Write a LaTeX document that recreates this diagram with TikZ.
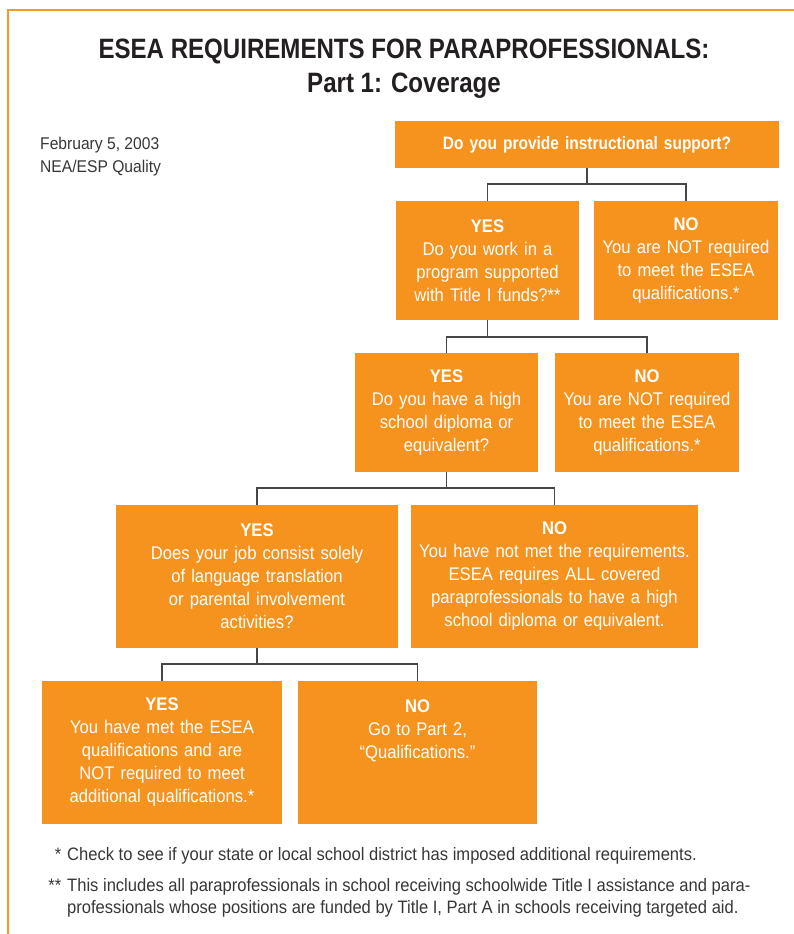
\documentclass[tikz,border=0pt]{standalone}
\usepackage{fontspec}
\setmainfont{Liberation Sans}[FakeStretch=0.86]
\newfontfamily\boxfont{Liberation Sans}[FakeStretch=0.91]
\newfontfamily\notefont{Liberation Sans}[FakeStretch=0.92]
\definecolor{BoxOrange}{RGB}{246,147,30}
\definecolor{FrameOrange}{RGB}{247,152,42}
\definecolor{LineGrey}{RGB}{70,70,70}
\definecolor{TitleInk}{RGB}{35,31,32}
\definecolor{NoteInk}{RGB}{55,55,55}

\begin{document}
\begin{tikzpicture}[x=1pt,y=-1pt,
  box/.style={fill=BoxOrange,text=white,inner sep=0pt,align=center,font=\boxfont\fontsize{18.3}{23}\selectfont},
  conn/.style={draw=LineGrey,line width=1.5pt},
  note/.style={text=NoteInk,inner sep=0pt,align=left,anchor=west}
]
\useasboundingbox (0,0) rectangle (794,934);
\draw[FrameOrange,line width=2pt] (8,934) -- (8,10) -- (794,10);

\node[text=TitleInk,align=center,font=\fontsize{28}{34}\selectfont\bfseries] (head) at (404,69) {ESEA REQUIREMENTS FOR PARAPROFESSIONALS:\\Part 1: Coverage};
\node[note,font=\notefont\fontsize{17}{23}\selectfont] (date) at (40,156.5) {February 5, 2003\\NEA/ESP Quality};

\node[box,text width=384pt,minimum height=47pt,font=\fontsize{18}{23}\selectfont] (q1) at (587,144.5) {\bfseries Do you provide instructional support?};
\node[box,text width=183pt,minimum height=119pt] (yes1) at (487.5,260.5) {{\bfseries YES}\\Do you work in a\\program supported\\with Title I funds?**};
\node[box,text width=184pt,minimum height=119pt] (no1) at (686,260.5) {{\bfseries NO}\\You are NOT required\\to meet the ESEA\\qualifications.*};
\node[box,text width=183pt,minimum height=119pt] (yes2) at (446.5,412.5) {{\bfseries YES}\\Do you have a high\\school diploma or\\equivalent?};
\node[box,text width=184pt,minimum height=119pt] (no2) at (647,412.5) {{\bfseries NO}\\You are NOT required\\to meet the ESEA\\qualifications.*};
\node[box,text width=282pt,minimum height=143pt] (yes3) at (257,576.5) {{\bfseries YES}\\Does your job consist solely\\of language translation\\or parental involvement\\activities?};
\node[box,text width=287pt,minimum height=143pt] (no3) at (554.5,576.5) {{\bfseries NO}\\You have not met the requirements.\\ESEA requires ALL covered\\paraprofessionals to have a high\\school diploma or equivalent.};
\node[box,text width=240pt,minimum height=143pt] (yes4) at (162,752.5) {{\bfseries YES}\\You have met the ESEA\\qualifications and are\\NOT required to meet\\additional qualifications.*};
\node[box,text width=239pt,minimum height=143pt] (no4) at (417.5,752.5) {{\bfseries NO}\\Go to Part 2,\\“Qualifications.”\\[23pt]\mbox{}};

\draw[conn] (q1.south) -- ++(0,16) -| (yes1.north);
\draw[conn] (q1.south) -- ++(0,16) -| (no1.north);
\draw[conn] (yes1.south) -- ++(0,17) -| (yes2.north);
\draw[conn] (yes1.south) -- ++(0,17) -| (no2.north);
\draw[conn] (yes2.south) -- ++(0,16) -| (yes3.north);
\draw[conn] (yes2.south) -- ++(0,16) -| (no3.north);
\draw[conn] (yes3.south) -- ++(0,16) -| (yes4.north);
\draw[conn] (yes3.south) -- ++(0,16) -| (no4.north);

\node[note,font=\notefont\fontsize{18}{22}\selectfont] (fn1) at (67,856) {\llap{*\hspace{6pt}}Check to see if your state or local school district has imposed additional requirements.};
\node[note,font=\notefont\fontsize{18}{22}\selectfont] (fn2) at (67,898) {\llap{**\hspace{6pt}}This includes all paraprofessionals in school receiving schoolwide Title I assistance and para-\\professionals whose positions are funded by Title I, Part A in schools receiving targeted aid.};
\end{tikzpicture}
\end{document}
